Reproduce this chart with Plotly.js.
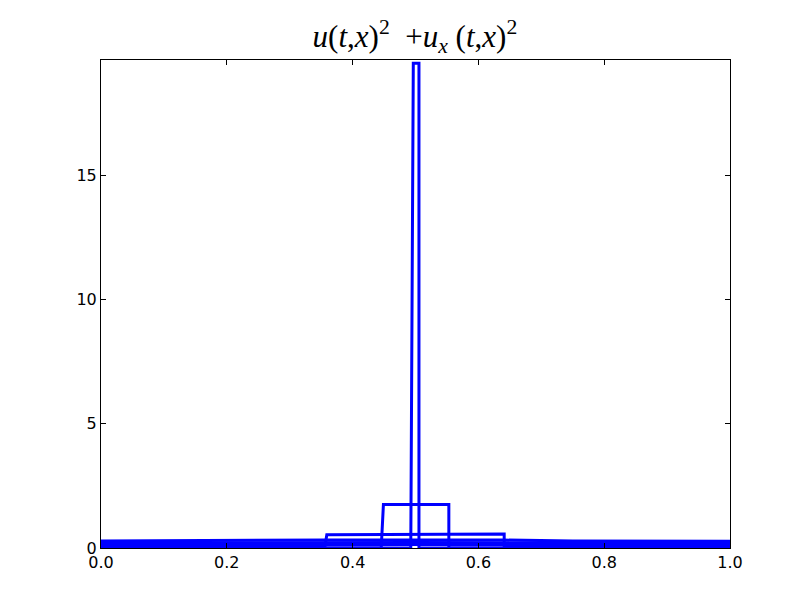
<!DOCTYPE html>
<html>
<head>
<meta charset="utf-8">
<script src="https://cdn.plot.ly/plotly-3.0.1.min.js"></script>
<style>
  body { margin: 0; background: #fff; }
  #chart { width: 812px; height: 612px; }
</style>
</head>
<body>
<div id="chart"></div>
<script>
// snapshots of the energy density (early -> late)
var xSpike = [0, 0.4925, 0.4965, 0.5055, 0.5055, 1];
var ySpike = [0, 0, 19.5, 19.5, 0, 0];

var xBox2 = [0, 0.4455, 0.449, 0.553, 0.553, 1];
var yBox2 = [0, 0, 1.75, 1.75, 0, 0];

var xBox3 = [0, 0.356, 0.359, 0.641, 0.641, 1];
var yBox3 = [0.05, 0.05, 0.53, 0.56, 0.05, 0.05];

var xLate1 = [0, 0.27, 0.36, 0.64, 0.75, 1];
var yLate1 = [0.28, 0.31, 0.32, 0.32, 0.28, 0.27];

var xLate2 = [0, 0.25, 0.5, 0.75, 1];
var yLate2 = [0.2, 0.22, 0.22, 0.21, 0.2];

var xLate3 = [0, 0.25, 0.5, 0.75, 1];
var yLate3 = [0.13, 0.15, 0.14, 0.14, 0.13];

var xTicks = [0, 0.2, 0.4, 0.6, 0.8, 1.0];
var xTickText = ["0.0", "0.2", "0.4", "0.6", "0.8", "1.0"];
var yTicks = [0, 5, 10, 15];

var blue = "rgb(0, 0, 255)";

function snap(x, y) {
  return {
    x: x,
    y: y,
    mode: "lines",
    line: {color: blue, width: 3},
    hoverinfo: "none",
    showlegend: false,
    type: "scatter"
  };
}

var data = [
  snap(xLate3, yLate3),
  snap(xLate2, yLate2),
  snap(xLate1, yLate1),
  snap(xBox3, yBox3),
  snap(xBox2, yBox2),
  snap(xSpike, ySpike)
];

var axisFont = {family: "DejaVu Sans", size: 16, color: "#000"};

var layout = {
  width: 812,
  height: 612,
  margin: {l: 101, r: 82, t: 60, b: 64},
  paper_bgcolor: "#fff",
  plot_bgcolor: "#fff",
  title: {
    text: "<i>u</i>(<i>t</i>,<i>x</i>)<sup>2</sup>  +<i>u</i><sub><i>x</i></sub> (<i>t</i>,<i>x</i>)<sup>2</sup>",
    font: {family: "Liberation Serif", size: 31, color: "#000"},
    x: 0.511,
    xanchor: "center",
    y: 1 - 36 / 612,
    yanchor: "middle"
  },
  xaxis: {
    range: [0, 1],
    tickvals: xTicks,
    ticktext: xTickText,
    ticks: "inside",
    ticklen: 5,
    tickcolor: "#000",
    showline: true,
    linecolor: "#000",
    linewidth: 1,
    mirror: "ticks",
    showgrid: false,
    zeroline: false,
    tickfont: axisFont
  },
  yaxis: {
    range: [0, 19.63],
    tickvals: yTicks,
    ticks: "inside",
    ticklen: 5,
    tickcolor: "#000",
    showline: true,
    linecolor: "#000",
    linewidth: 1,
    mirror: "ticks",
    showgrid: false,
    zeroline: false,
    tickfont: axisFont
  }
};

Plotly.newPlot("chart", data, layout, {displayModeBar: false, staticPlot: true});
</script>
</body>
</html>
